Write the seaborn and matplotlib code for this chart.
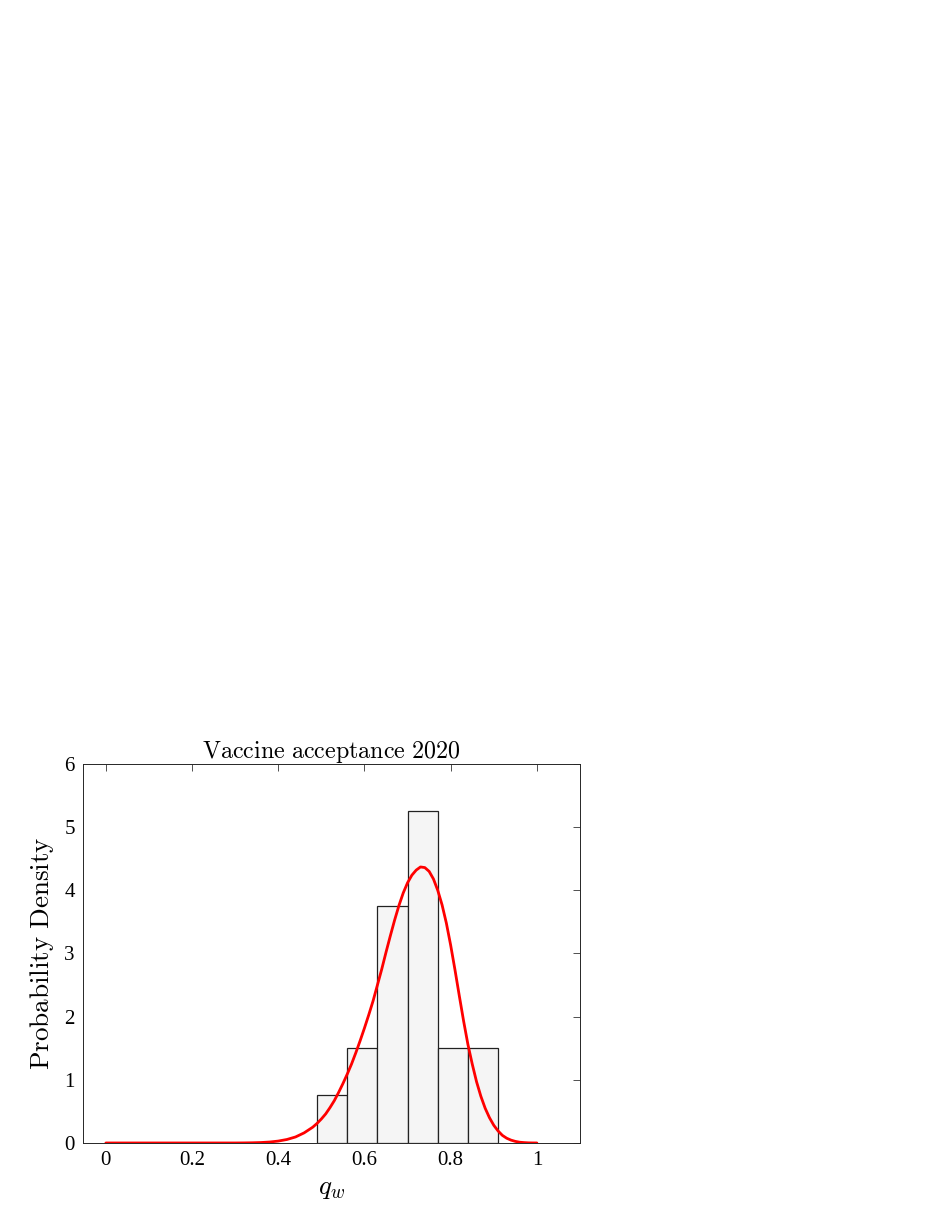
import numpy as np
import pandas as pd
import seaborn as sns
import matplotlib
matplotlib.use("Agg")
import matplotlib.pyplot as plt

# Histogram data (counts per bin, density normalised)
bin_edges = [0.49, 0.56, 0.63, 0.70, 0.77, 0.84, 0.91]
bin_counts = [1, 2, 5, 7, 2, 2]

# Fitted density curve
curve_x = [0.00, 0.10, 0.20, 0.30, 0.32, 0.34, 0.36, 0.38, 0.40, 0.42, 0.44, 0.46,
           0.48, 0.49, 0.50, 0.51, 0.52, 0.53, 0.54, 0.55, 0.56, 0.57, 0.58, 0.59,
           0.60, 0.61, 0.62, 0.63, 0.64, 0.65, 0.66, 0.67, 0.68, 0.69, 0.70, 0.71,
           0.72, 0.73, 0.74, 0.75, 0.76, 0.77, 0.78, 0.79, 0.80, 0.81, 0.82, 0.83,
           0.84, 0.85, 0.86, 0.87, 0.88, 0.89, 0.90, 0.91, 0.92, 0.93, 0.94, 0.95,
           0.96, 0.97, 0.98, 0.99, 1.00]
curve_y = [0.0, 0.0, 0.0, 0.0, 0.001, 0.003, 0.007, 0.015, 0.03, 0.055, 0.095, 0.16,
           0.25, 0.31, 0.38, 0.46, 0.56, 0.67, 0.80, 0.94, 1.09, 1.25, 1.43, 1.62,
           1.82, 2.03, 2.25, 2.50, 2.75, 3.02, 3.28, 3.53, 3.76, 3.96, 4.12, 4.24,
           4.32, 4.37, 4.36, 4.30, 4.18, 4.00, 3.77, 3.48, 3.13, 2.74, 2.33, 1.93,
           1.56, 1.25, 0.97, 0.74, 0.55, 0.40, 0.28, 0.19, 0.12, 0.075, 0.045, 0.025,
           0.012, 0.006, 0.002, 0.0005, 0.0]

x_ticks = [0, 0.2, 0.4, 0.6, 0.8, 1]
x_tick_labels = ["0", "0.2", "0.4", "0.6", "0.8", "1"]
y_ticks = [0, 1, 2, 3, 4, 5, 6]

sns.set_style("white")
plt.rcParams["font.family"] = ["Liberation Serif", "DejaVu Serif"]
plt.rcParams["mathtext.fontset"] = "cm"
plt.rcParams["text.color"] = "black"
plt.rcParams["axes.labelcolor"] = "black"
plt.rcParams["xtick.color"] = "black"
plt.rcParams["ytick.color"] = "black"

fig = plt.figure(figsize=(9.35, 12.10), dpi=100)
ax = fig.add_axes([0.0888, 0.0554, 0.5315, 0.3132])

centers = [(bin_edges[i] + bin_edges[i + 1]) / 2 for i in range(len(bin_counts))]
df = pd.DataFrame({"q": centers, "n": bin_counts})
sns.histplot(data=df, x="q", weights="n", bins=bin_edges, stat="density",
             color="#f5f5f5", edgecolor="#222222", linewidth=0.9, alpha=1.0, ax=ax)

cdf = pd.DataFrame({"x": curve_x, "y": curve_y})
sns.lineplot(data=cdf, x="x", y="y", color="red", linewidth=2.0, ax=ax)

ax.set_xlim(-0.053, 1.1)
ax.set_ylim(0, 6)
ax.set_xticks(x_ticks)
ax.set_xticklabels(x_tick_labels)
ax.set_yticks(y_ticks)
ax.tick_params(axis="both", which="both", direction="in", top=True, right=True,
               length=5, width=0.6, color="#333333", labelcolor="black",
               labelsize=15, pad=6)
for s in ax.spines.values():
    s.set_linewidth(0.7)
    s.set_color("#262626")

ax.set_title(r"$\mathrm{Vaccine\ acceptance\ 2020}$", fontsize=17.3, pad=4, color="black")
ax.set_ylabel(r"$\mathrm{Probability\ Density}$", fontsize=19.5, labelpad=6)
ax.set_xlabel(r"$q_w$", fontsize=19.5, labelpad=4)

fig.savefig("out.png", dpi=100)
